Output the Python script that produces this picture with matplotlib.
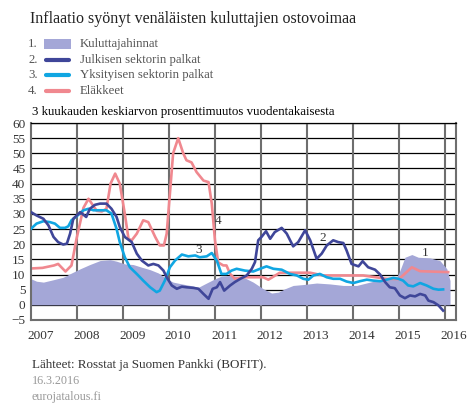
import matplotlib
matplotlib.use("Agg")
import matplotlib.pyplot as plt
from matplotlib.lines import Line2D
from matplotlib.patches import Rectangle

plt.rcParams['font.family'] = ['Liberation Serif', 'DejaVu Serif']

# Kuluttajahinnat (area)
cpi_x = [2007.0, 2007.12, 2007.27, 2007.49, 2007.70, 2007.88, 2008.07, 2008.28, 2008.5, 2008.72,
         2008.86, 2009.04, 2009.22, 2009.41, 2009.59, 2009.77, 2009.95, 2010.09, 2010.28, 2010.46,
         2010.64, 2010.78, 2010.96, 2011.14, 2011.33, 2011.62, 2011.83, 2012.05, 2012.23, 2012.38,
         2012.52, 2012.70, 2012.92, 2013.21, 2013.5, 2013.79, 2014.08, 2014.37, 2014.66, 2014.95,
         2015.02, 2015.13, 2015.28, 2015.42, 2015.67, 2015.89, 2016.04, 2016.11]
cpi_y = [8.6, 7.8, 7.5, 8.3, 9.1, 10.5, 11.9, 13.3, 14.6, 14.9,
         14.4, 13.5, 13.3, 12.4, 11.6, 10.5, 8.6, 7.5, 6.9, 6.4,
         5.8, 6.9, 8.3, 9.5, 9.7, 9.1, 7.5, 5.3, 3.9, 4.2,
         5.3, 6.4, 6.7, 7.2, 6.9, 6.4, 6.4, 7.5, 8.6, 8.9,
         11.3, 15.7, 16.6, 15.7, 15.5, 14.6, 11.9, 8.0]

# Julkisen sektorin palkat
pub_x = [2007.0, 2007.12, 2007.27, 2007.38, 2007.49, 2007.59, 2007.70, 2007.78, 2007.85, 2007.92,
         2008.07, 2008.20, 2008.28, 2008.39, 2008.5, 2008.64, 2008.75, 2008.86, 2008.93, 2009.04,
         2009.19, 2009.30, 2009.41, 2009.55, 2009.66, 2009.77, 2009.88, 2009.95, 2010.06, 2010.17,
         2010.28, 2010.38, 2010.53, 2010.64, 2010.75, 2010.86, 2010.95, 2011.04, 2011.11, 2011.20,
         2011.33, 2011.43, 2011.54, 2011.69, 2011.80, 2011.87, 2011.94, 2012.01, 2012.11, 2012.2,
         2012.30, 2012.45, 2012.56, 2012.70, 2012.81, 2012.96, 2013.07, 2013.21, 2013.32, 2013.43,
         2013.57, 2013.68, 2013.79, 2013.86, 2013.97, 2014.12, 2014.21, 2014.33, 2014.48, 2014.59,
         2014.70, 2014.80, 2014.91, 2015.02, 2015.13, 2015.24, 2015.35, 2015.46, 2015.57, 2015.64,
         2015.75, 2015.86, 2015.96]
pub_y = [30.6, 29.5, 28.4, 26.2, 22.4, 20.7, 19.9, 20.2, 23.5, 28.4,
         30.6, 29.0, 31.7, 33.0, 33.4, 33.4, 31.7, 29.0, 25.7, 22.4,
         20.7, 16.9, 14.6, 13.0, 13.5, 13.0, 11.3, 9.1, 6.4, 5.3,
         6.0, 5.8, 5.6, 5.3, 3.6, 2.0, 5.3, 5.8, 7.5, 4.7,
         6.4, 7.5, 8.5, 9.7, 11.9, 14.1, 21.3, 22.4, 24.3, 21.8,
         24.0, 25.4, 23.5, 19.3, 20.7, 24.6, 21.3, 15.2, 16.9, 19.6,
         21.3, 20.7, 20.4, 18.0, 13.5, 12.7, 14.4, 12.4, 11.6, 10.0,
         7.5, 5.8, 5.5, 3.1, 2.2, 3.1, 2.8, 3.6, 3.1, 1.4,
         0.9, -0.2, -1.9]

# Yksityisen sektorin palkat
priv_x = [2007.0, 2007.12, 2007.27, 2007.41, 2007.52, 2007.63, 2007.74, 2007.81, 2007.88, 2007.99,
          2008.14, 2008.25, 2008.36, 2008.5, 2008.64, 2008.75, 2008.86, 2008.93, 2009.04, 2009.15,
          2009.30, 2009.44, 2009.59, 2009.73, 2009.80, 2009.91, 2010.02, 2010.13, 2010.28, 2010.42,
          2010.57, 2010.67, 2010.82, 2010.93, 2011.04, 2011.14, 2011.25, 2011.36, 2011.47, 2011.65,
          2011.83, 2011.98, 2012.12, 2012.27, 2012.45, 2012.63, 2012.78, 2012.92, 2013.03, 2013.14,
          2013.28, 2013.43, 2013.57, 2013.72, 2013.86, 2014.01, 2014.15, 2014.30, 2014.44, 2014.59,
          2014.73, 2014.88, 2014.99, 2015.09, 2015.20, 2015.31, 2015.46, 2015.60, 2015.75, 2015.86,
          2015.96]
priv_y = [25.1, 26.8, 27.6, 27.3, 26.8, 25.4, 25.4, 25.9, 27.9, 29.2,
          31.2, 31.7, 31.2, 31.2, 31.2, 30.1, 25.1, 20.7, 15.7, 12.4,
          10.2, 8.0, 5.8, 4.2, 4.7, 8.0, 12.4, 14.6, 16.6, 16.0,
          16.3, 15.7, 16.0, 17.1, 14.6, 10.2, 10.2, 11.3, 11.9, 11.3,
          11.0, 11.9, 12.7, 11.9, 11.6, 10.2, 9.7, 8.6, 8.3, 9.7,
          10.2, 9.1, 8.6, 8.6, 7.7, 7.2, 7.8, 8.3, 8.0, 7.8,
          8.3, 8.9, 8.6, 8.0, 6.4, 6.1, 7.2, 6.4, 5.3, 5.0,
          5.1]

# Eläkkeet
pen_x = [2007.0, 2007.25, 2007.5, 2007.59, 2007.75, 2007.88, 2007.99, 2008.14, 2008.25, 2008.43,
         2008.54, 2008.64, 2008.73, 2008.83, 2008.93, 2009.04, 2009.12, 2009.19, 2009.30, 2009.44,
         2009.55, 2009.70, 2009.80, 2009.89, 2009.95, 2010.02, 2010.09, 2010.20, 2010.31, 2010.38,
         2010.49, 2010.60, 2010.75, 2010.86, 2010.93, 2011.0, 2011.07, 2011.18, 2011.25, 2011.33,
         2011.43, 2011.6, 2012.05, 2012.16, 2012.41, 2013.07, 2013.35, 2014.22, 2014.73, 2015.0,
         2015.28, 2015.46, 2016.07]
pen_y = [12.0, 12.2, 13.0, 13.5, 11.0, 13.0, 21.8, 32.0, 35.0, 31.0,
         30.8, 31.7, 40.0, 43.3, 40.0, 30.0, 21.8, 21.3, 23.5, 27.9,
         27.3, 22.4, 19.6, 19.6, 23.5, 36.7, 50.0, 55.0, 50.0, 47.7,
         47.0, 43.8, 41.0, 40.5, 33.4, 21.3, 14.0, 13.0, 13.0, 10.2,
         8.6, 9.1, 9.1, 8.3, 10.6, 10.6, 9.7, 9.7, 8.6, 8.5,
         12.4, 11.1, 10.8]

years = list(range(2007, 2017))
legend_labels = ["Kuluttajahinnat", "Julkisen sektorin palkat",
                 "Yksityisen sektorin palkat", "Eläkkeet"]

c_area = "#a4a7d7"
c_pub = "#3f4699"
c_priv = "#10a6e2"
c_pen = "#f0888f"

fig = plt.figure(figsize=(4.69, 4.03), dpi=100)
ax = fig.add_axes([31 / 469, 1 - 320 / 403, 425 / 469, 197 / 403])

ax.fill_between(cpi_x, 0, cpi_y, color=c_area, lw=0, zorder=1)
ax.plot(pub_x, pub_y, color=c_pub, lw=1.9, zorder=4)
ax.plot(priv_x, priv_y, color=c_priv, lw=1.9, zorder=3)
ax.plot(pen_x, pen_y, color=c_pen, lw=1.9, zorder=2)

# grid: black horizontals, grey verticals
for v in range(0, 61, 5):
    ax.axhline(v, color="black", lw=0.9, zorder=0)
for yr in years[1:]:
    ax.axvline(yr, color="#6e6e6e", lw=1.5, zorder=0)

ax.set_xlim(2007.0, 2016.24)
ax.set_ylim(-5, 60)
for s in ["left", "right", "bottom"]:
    ax.spines[s].set_color("#6e6e6e")
    ax.spines[s].set_linewidth(1.5)
ax.spines["top"].set_color("black")
ax.spines["top"].set_linewidth(0.9)

ax.set_yticks(range(-5, 61, 5))
ax.set_yticklabels([str(v).replace("-", "\u2212") for v in range(-5, 61, 5)])
ax.set_xticks([y + 0.2 for y in years])
ax.set_xticklabels([str(y) for y in years])
ax.tick_params(length=0, labelsize=9.5, labelcolor="#333333")
ax.tick_params(axis="y", pad=4)
ax.tick_params(axis="x", pad=7)

# series numbers in the plot
ax.text(2011.07, 27.8, "4", fontsize=9.5, color="#333333", ha="center", va="center")
ax.text(2010.65, 18.2, "3", fontsize=9.5, color="#333333", ha="center", va="center")
ax.text(2013.35, 21.9, "2", fontsize=9.5, color="#333333", ha="center", va="center")
ax.text(2015.58, 17.2, "1", fontsize=9.5, color="#333333", ha="center", va="center")

W, H = 469, 403

def fx(px):
    return px / W

def fy(py):
    return 1 - py / H

fig.text(fx(30), fy(19), "Inflaatio syönyt venäläisten kuluttajien ostovoimaa",
         fontsize=11.5, color="#222222", va="center")

# legend
rows = [44, 60, 75, 91]
for i, (lab, ry) in enumerate(zip(legend_labels, rows)):
    fig.text(fx(28), fy(ry), f"{i + 1}.", fontsize=9.2, color="#555555", va="center")
    fig.text(fx(80), fy(ry), lab, fontsize=9.2, color="#555555", va="center")
fig.add_artist(Rectangle((fx(44), fy(rows[0] + 5)), fx(27), 10 / H,
                         transform=fig.transFigure, color=c_area, lw=0))
for col, ry in zip([c_pub, c_priv, c_pen], rows[1:]):
    fig.add_artist(Line2D([fx(46), fx(69)], [fy(ry), fy(ry)], transform=fig.transFigure,
                          color=col, lw=3, solid_capstyle="round"))

fig.text(fx(32), fy(112), "3 kuukauden keskiarvon prosenttimuutos vuodentakaisesta",
         fontsize=9.3, color="black", va="center")

fig.text(fx(32), fy(365), "Lähteet: Rosstat ja Suomen Pankki (BOFIT).",
         fontsize=9.4, color="#333333", va="center")
fig.text(fx(32), fy(381), "16.3.2016", fontsize=8.7, color="#999999", va="center")
fig.text(fx(32), fy(397), "eurojatalous.fi", fontsize=8.7, color="#999999", va="center")

fig.savefig("out.png", dpi=100)
